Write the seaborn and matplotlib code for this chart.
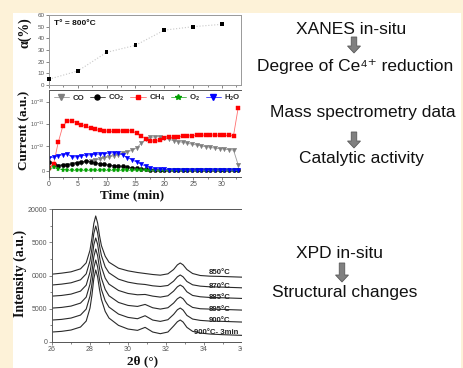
import matplotlib
matplotlib.use("Agg")
import matplotlib.pyplot as plt
import seaborn as sns
from matplotlib.patches import Rectangle, FancyArrow
from matplotlib.ticker import FixedLocator, MultipleLocator
from matplotlib.lines import Line2D

# ---------------- data ----------------
# Degree of Ce4+ reduction from XANES at 800 °C
alpha_time = [0, 5, 10, 15, 20, 25, 30]
alpha_pct = [5, 12, 28, 34, 47, 50, 52]

# Mass spectrometry ion currents (pA) versus time (min)
ms_time = [0.0, 0.8, 1.6, 2.4, 3.2, 4.0, 4.8, 5.6, 6.4, 7.2, 8.0, 8.8, 9.6, 10.4,
           11.2, 12.0, 12.8, 13.6, 14.4, 15.2, 16.0, 16.8, 17.6, 18.4, 19.2, 20.0,
           20.8, 21.6, 22.4, 23.2, 24.0, 24.8, 25.6, 26.4, 27.2, 28.0, 28.8, 29.6,
           30.4, 31.2, 32.0, 32.8]
co = [0.25, 0.2, 0.18, 0.2, 0.22, 0.25, 0.28, 0.3, 0.33, 0.37, 0.42, 0.47, 0.52, 0.56,
      0.6, 0.65, 0.72, 0.77, 0.82, 0.92, 1.32, 2.0, 2.4, 2.6, 2.6, 2.35, 2.0, 1.74,
      1.58, 1.45, 1.32, 1.2, 1.1, 1.0, 0.97, 0.94, 0.91, 0.89, 0.87, 0.85, 0.83, 0.24]
co2 = [0.33, 0.28, 0.2, 0.22, 0.24, 0.28, 0.32, 0.35, 0.37, 0.36, 0.32, 0.28, 0.25, 0.22,
       0.2, 0.18, 0.17, 0.15, 0.12, 0.1, 0.08, 0.05, 0.04, 0.03, 0.02, 0.02, 0.01, 0.01,
       0.01, 0.01, 0.01, 0.01, 0.01, 0.01, 0.01, 0.01, 0.01, 0.01, 0.01, 0.01, 0.01, 0.01]
ch4 = [0.1, 0.26, 1.45, 7.9, 13.2, 13.5, 11.2, 8.9, 7.6, 6.3, 5.5, 5.0, 4.7, 4.6,
       4.5, 4.6, 4.8, 4.9, 4.7, 3.7, 2.8, 2.1, 1.7, 1.6, 1.8, 2.2, 2.4, 2.5,
       2.6, 2.75, 2.8, 2.9, 2.95, 3.0, 3.1, 3.1, 3.1, 3.0, 3.0, 2.95, 2.9, 50.0]
o2 = [0.06, 0.13, 0.08, 0.03, 0.01, 0.01, 0.01, 0.01, 0.01, 0.01, 0.01, 0.01, 0.01, 0.01,
      0.01, 0.01, 0.01, 0.01, 0.01, 0.01, 0.01, 0.01, 0.01, 0.01, 0.01, 0.01, 0.01, 0.01,
      0.01, 0.01, 0.01, 0.01, 0.01, 0.01, 0.01, 0.01, 0.01, 0.01, 0.01, 0.01, 0.01, 0.01]
h2o = [0.52, 0.55, 0.6, 0.65, 0.68, 0.55, 0.56, 0.6, 0.62, 0.64, 0.66, 0.67, 0.69, 0.71,
       0.72, 0.7, 0.63, 0.53, 0.44, 0.35, 0.26, 0.18, 0.12, 0.08, 0.06, 0.05, 0.04, 0.04,
       0.03, 0.03, 0.03, 0.03, 0.02, 0.02, 0.02, 0.02, 0.02, 0.02, 0.02, 0.02, 0.02, 0.02]
ms_ticks = [0, 1, 10, 100]
ms_tick_labels = ["0", "10$^{-12}$", "10$^{-11}$", "10$^{-10}$"]

# In-situ XPD patterns (intensity, a.u.) versus 2-theta (deg)
two_theta = [26.0, 26.5, 27.0, 27.5, 27.8, 28.0, 28.1, 28.2, 28.3, 28.4, 28.5, 28.6, 28.8,
             29.0, 29.5, 30.0, 30.5, 30.9, 31.3, 31.7, 32.1, 32.4, 32.6, 32.75, 32.9,
             33.1, 33.4, 33.8, 34.3, 35.0, 35.5, 36.0]
xpd_850 = [10200, 10350, 10550, 11000, 11900, 13800, 15600, 17800, 18950, 17900, 16000,
           14500, 12900, 12000, 11100, 10700, 10450, 10300, 10150, 10050, 10250, 10900,
           11600, 11880, 11600, 10900, 10300, 10000, 9900, 9850, 9800, 9750]
xpd_870 = [8570, 8700, 8900, 9350, 10250, 12200, 14000, 16300, 17440, 16400, 14500,
           13000, 11300, 10400, 9450, 9000, 8750, 8650, 8450, 8350, 8500, 9150,
           9800, 10080, 9800, 9100, 8600, 8400, 8300, 8250, 8200, 8150]
xpd_885 = [6900, 7000, 7200, 7650, 8550, 10500, 12300, 14600, 15640, 14700, 12800,
           11300, 9600, 8700, 7750, 7300, 7100, 7150, 6900, 6750, 6950, 7650,
           8300, 8570, 8300, 7550, 7000, 6800, 6700, 6650, 6600, 6550]
xpd_895 = [5100, 5200, 5400, 5850, 6750, 8700, 10500, 12800, 13980, 13000, 11100,
           9600, 7900, 6950, 5950, 5500, 5350, 5650, 5150, 4950, 5150, 5850,
           6500, 6770, 6500, 5750, 5200, 5000, 4950, 4900, 4850, 4800]
xpd_900 = [3300, 3400, 3600, 4050, 4950, 6900, 8700, 11100, 12330, 11300, 9400,
           7900, 6200, 5250, 4200, 3700, 3500, 3950, 3300, 3100, 3350, 4150,
           4850, 5110, 4800, 4000, 3450, 3250, 3150, 3100, 3050, 3000]
xpd_900_3min = [1500, 1600, 1800, 2250, 3150, 5100, 7000, 9500, 10830, 9800, 7900,
                6400, 4600, 3600, 2500, 1950, 1750, 2200, 1500, 1250, 1500, 2400,
                3050, 3310, 3000, 2200, 1600, 1350, 1200, 1100, 1050, 1000]
xpd_labels = ["850°C", "870°C", "885°C", "895°C", "900°C", "900°C- 3min"]
xpd_yticks = [0, 5000, 10000, 15000, 20000]
xpd_ytick_labels = ["0", "5000", "0000", "5000", "20000"]

# ---------------- style ----------------
sns.set_theme(style="ticks")
plt.rcParams.update({
    "font.family": ["Liberation Sans", "DejaVu Sans"],
    "mathtext.fontset": "custom",
    "mathtext.rm": "Liberation Sans",
    "mathtext.bf": "Liberation Sans:bold",
    "mathtext.default": "regular",
    "axes.edgecolor": "#555555",
    "axes.linewidth": 0.7,
    "xtick.color": "#555555",
    "ytick.color": "#555555",
    "xtick.major.size": 2.2, "ytick.major.size": 2.2,
    "xtick.minor.size": 1.3, "ytick.minor.size": 1.3,
    "xtick.major.width": 0.5, "ytick.major.width": 0.5,
    "xtick.minor.width": 0.5, "ytick.minor.width": 0.5,
    "xtick.major.pad": 0.8, "ytick.major.pad": 1.0,
})

W, H = 463, 368
fig = plt.figure(figsize=(W / 100, H / 100), dpi=100)
fig.patch.set_facecolor("white")


def box(l, t, r, b):
    return [l / W, 1 - b / H, (r - l) / W, (b - t) / H]


def fpos(x, y):
    return x / W, 1 - y / H


SERIF = ["Liberation Serif", "DejaVu Serif"]
label_kw = dict(family=SERIF, fontweight="bold", color="#111111", ha="center", va="center")

# ---------------- panel 1: reduction degree ----------------
ax1 = fig.add_axes(box(49, 15, 241, 85))
sns.lineplot(x=alpha_time, y=alpha_pct, ax=ax1, color="#c8c8c8", lw=0.8, linestyle=":")
sns.scatterplot(x=alpha_time, y=alpha_pct, ax=ax1, color="black", marker="s", s=7,
                edgecolor="none", clip_on=False, zorder=3)
ax1.set_xlim(0, 33.3)
ax1.set_ylim(0, 60)
ax1.yaxis.set_major_locator(MultipleLocator(10))
ax1.xaxis.set_major_locator(MultipleLocator(5))
ax1.xaxis.set_minor_locator(MultipleLocator(2.5))
ax1.tick_params(axis="x", labelbottom=False)
ax1.tick_params(axis="y", labelsize=4.5)
ax1.set_xlabel("")
ax1.set_ylabel("")
for s in ax1.spines.values():
    s.set_color("#999999")
ax1.text(0.025, 0.88, "T° = 800°C", transform=ax1.transAxes, fontsize=6,
         fontweight="bold", color="#111111", va="center")
fig.text(*fpos(25, 33), "α(%)", rotation=90, fontsize=10, **label_kw)

# ---------------- panel 2: mass spectrometry ----------------
ax2 = fig.add_axes(box(49, 90, 241, 177))
series = [
    (co, "CO", "#7f7f7f", "#9a9a9a", "v", 3.2),
    (co2, "CO$_2$", "black", "#333333", "o", 3.0),
    (ch4, "CH$_4$", "#ff0000", "#ff7070", "s", 2.8),
    (o2, "O$_2$", "#00a000", "#40b040", "*", 3.6),
    (h2o, "H$_2$O", "#0000ff", "#3030ff", "v", 3.2),
]
handles = []
for vals, name, mcol, lcol, mk, ms in series:
    sns.lineplot(x=ms_time, y=vals, ax=ax2, color=lcol, lw=0.6, marker=mk,
                 markersize=ms, markerfacecolor=mcol, markeredgecolor=mcol,
                 markeredgewidth=0.3, legend=False)
    handles.append(Line2D([], [], color=lcol, lw=0.6, marker=mk, markersize=ms + 0.6,
                          markerfacecolor=mcol, markeredgecolor=mcol, label=name))
ax2.set_yscale("symlog", linthresh=1, linscale=1)
ax2.set_ylim(-0.26, 331)
ax2.set_xlim(0, 33.3)
ax2.yaxis.set_major_locator(FixedLocator(ms_ticks))
ax2.set_yticklabels(ms_tick_labels)
ax2.yaxis.set_minor_locator(FixedLocator([]))
ax2.xaxis.set_major_locator(MultipleLocator(5))
ax2.xaxis.set_minor_locator(MultipleLocator(2.5))
ax2.tick_params(axis="x", labelsize=5)
ax2.tick_params(axis="y", labelsize=4)
ax2.spines["right"].set_visible(False)
ax2.set_xlabel("")
ax2.set_ylabel("")
leg = ax2.legend(handles=handles, loc="upper left", bbox_to_anchor=(0.0, 1.02), ncol=5,
                 frameon=False, fontsize=5.6, handlelength=2.0, handletextpad=0.4,
                 columnspacing=0.7, borderaxespad=0.2, numpoints=1)
for t in leg.get_texts():
    t.set_fontweight("bold")
fig.text(*fpos(24, 130), "Current (a.u.)", rotation=90, fontsize=9.5, **label_kw)
fig.text(*fpos(132, 195), "Time (min)", fontsize=9.5, **label_kw)

# ---------------- panel 3: XPD ----------------
ax3 = fig.add_axes(box(52, 209, 242, 342))
for vals in [xpd_850, xpd_870, xpd_885, xpd_895, xpd_900, xpd_900_3min]:
    sns.lineplot(x=two_theta, y=vals, ax=ax3, color="#2a2a2a", lw=0.8)
ax3.set_xlim(26, 36)
ax3.set_ylim(0, 20000)
ax3.xaxis.set_major_locator(MultipleLocator(2))
ax3.xaxis.set_minor_locator(MultipleLocator(1))
ax3.yaxis.set_major_locator(FixedLocator(xpd_yticks))
ax3.set_yticklabels(xpd_ytick_labels)
ax3.yaxis.set_minor_locator(MultipleLocator(2500))
ax3.tick_params(axis="both", labelsize=5)
ax3.spines["right"].set_visible(False)
ax3.set_xlabel("")
ax3.set_ylabel("")
label_y = [10380, 8420, 6620, 4960, 3160, 1500]
label_x = [34.26, 34.26, 34.26, 34.26, 34.26, 33.5]
for lx, ly, txt in zip(label_x, label_y, xpd_labels):
    ax3.text(lx, ly, txt, fontsize=5.6, fontweight="bold", color="#222222",
             va="center", ha="left", clip_on=False)
fig.text(*fpos(20, 273), "Intensity (a.u.)", rotation=90, fontsize=10, **label_kw)
fig.text(*fpos(143, 361.5), "2θ (°)", fontsize=9.5, **label_kw)

# ---------------- right column: annotations ----------------
fig.add_artist(Rectangle((241.5 / W, 0), (W - 241.5) / W, 1, transform=fig.transFigure,
                         facecolor="white", edgecolor="none", zorder=5))
cream = "#fdf2d8"
for (x0, y0, w0, h0) in [(0, 0, 13, H), (0, 0, W, 13), (W - 2, 0, 2, H)]:
    fig.add_artist(Rectangle((x0 / W, 1 - (y0 + h0) / H), w0 / W, h0 / H,
                             transform=fig.transFigure, facecolor=cream,
                             edgecolor="none", zorder=6))

txt_kw = dict(fontsize=12.5, color="#111111", ha="center", va="center", zorder=7,
              family=["Liberation Sans", "DejaVu Sans"])
fig.text(*fpos(351, 30), "XANES in-situ", **txt_kw)
fig.text(*fpos(355, 66), "Degree of Ce⁴⁺ reduction", **txt_kw)
fig.text(*fpos(363, 113), "Mass spectrometry data", **txt_kw)
fig.text(*fpos(361, 159), "Catalytic activity", **txt_kw)
fig.text(*fpos(339, 253), "XPD in-situ", **txt_kw)
fig.text(*fpos(345, 293), "Structural changes", **txt_kw)

for cx, y_top, y_bot in [(354, 37, 53), (354, 132, 148), (342, 263, 282)]:
    arr = FancyArrow(cx / 100, (H - y_top) / 100, 0, -(y_bot - y_top) / 100,
                     width=0.055, head_width=0.13, head_length=0.07,
                     length_includes_head=True, transform=fig.dpi_scale_trans,
                     facecolor="#808080", edgecolor="#5a5a5a", linewidth=0.6, zorder=7)
    fig.add_artist(arr)

fig.savefig("out.png", dpi=100, facecolor="white")
